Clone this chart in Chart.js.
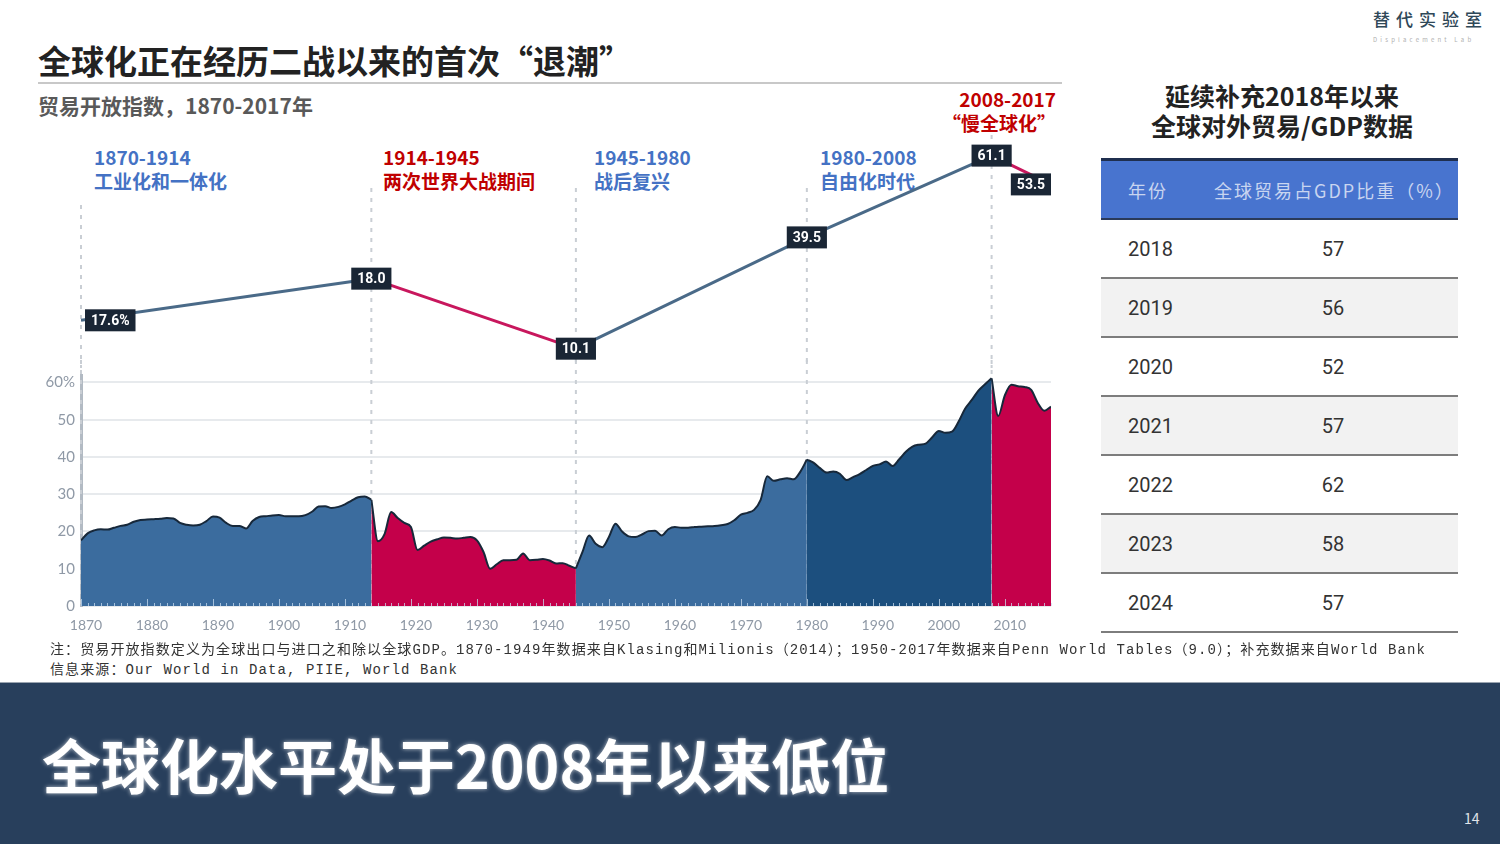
<!DOCTYPE html>
<html lang="zh-CN">
<head>
<meta charset="utf-8">
<title>全球化正在经历二战以来的首次“退潮”</title>
<script src="https://cdn.jsdelivr.net/npm/chart.js@4.4.1/dist/chart.umd.min.js"></script>
<style>
  html, body { margin: 0; padding: 0; }
  body {
    width: 1500px; height: 844px; position: relative; overflow: hidden; background: #fff;
    font-family: "Noto Sans CJK SC", "Noto Sans", sans-serif;
  }
  .abs { position: absolute; white-space: nowrap; }
  .period { font-size: 19px; font-weight: 700; line-height: 24px; }
  .blue { color: #4472c4; }
  .red { color: #c00000; }
  #areaChart, #peakChart { position: absolute; left: 30px; }
  #areaChart { top: 360px; }
  #peakChart { top: 103px; pointer-events: none; }
  table.gdp { position: absolute; left: 1101px; top: 158px; width: 357px; border-collapse: collapse; }
  table.gdp th {
    height: 57px; padding: 0; background: #4874cf; color: #c8d5f0; font-weight: 400; font-size: 18px;
    letter-spacing: 2px; text-align: left; border-top: 3px solid #1f2f4f; border-bottom: 2px solid #2a3a5a;
  }
  table.gdp td { height: 57px; padding: 0; font-size: 20px; color: #333; border-bottom: 2px solid #7d7d7d;
    font-family: Roboto, "Noto Sans", sans-serif; }
  table.gdp tr:nth-child(even) td { background: #f2f2f2; }
  .note { font-family: "Liberation Mono", "DejaVu Sans Mono", "Noto Sans CJK SC", monospace;
    font-size: 14px; letter-spacing: 1.1px; color: #333; line-height: 20px; }
</style>
</head>
<body>

<div class="abs" style="left:1373px;top:6px;font-size:17px;letter-spacing:6px;color:#2f4858;font-weight:500;">替代实验室</div>
<div class="abs" style="left:1373px;top:35px;font-size:6px;letter-spacing:3.2px;color:#b0b0b0;">Displacement Lab</div>

<div class="abs" style="left:38px;top:40px;font-size:33px;font-weight:700;line-height:40px;color:#222;">全球化正在经历二战以来的首次“退潮”</div>
<div class="abs" style="left:38px;top:82px;width:1024px;height:2px;background:#c8c8c8;"></div>
<div class="abs" style="left:38px;top:92px;font-size:21px;font-weight:700;line-height:26px;color:#595959;">贸易开放指数，1870-2017年</div>

<div class="abs period blue" style="left:94px;top:145px;">1870-1914<br>工业化和一体化</div>
<div class="abs period red" style="left:383px;top:145px;">1914-1945<br>两次世界大战期间</div>
<div class="abs period blue" style="left:594px;top:145px;">1945-1980<br>战后复兴</div>
<div class="abs period blue" style="left:820px;top:145px;">1980-2008<br>自由化时代</div>
<div class="abs period red" style="right:444px;top:87px;text-align:right;">2008-2017<br>“慢全球化”</div>

<canvas id="areaChart" width="1030" height="285"></canvas>
<canvas id="peakChart" width="1030" height="265"></canvas>

<div class="abs" style="left:1101px;top:80px;width:362px;text-align:center;font-size:25px;font-weight:700;line-height:30px;color:#222;">延续补充2018年以来<br>全球对外贸易/GDP数据</div>
<table class="gdp" id="gdpTable">
  <thead><tr><th style="width:80px;padding-left:27px;">年份</th><th style="padding-left:6px;">全球贸易占GDP比重（%）</th></tr></thead>
  <tbody></tbody>
</table>

<div class="abs note" style="left:50px;top:640px;">注：贸易开放指数定义为全球出口与进口之和除以全球GDP。1870-1949年数据来自Klasing和Milionis（2014）；1950-2017年数据来自Penn World Tables（9.0）；补充数据来自World Bank</div>
<div class="abs note" style="left:50px;top:660px;">信息来源：Our World in Data, PIIE, World Bank</div>

<div class="abs" style="left:0;top:682px;width:1500px;height:162px;background:#283f5c;border-top:1px solid #9aa4b0;"></div>
<div class="abs" style="left:42px;top:728px;font-size:59px;font-weight:700;line-height:72px;color:#fff;text-shadow:0 0 4px rgba(255,255,255,0.7);">全球化水平处于2008年以来低位</div>
<div class="abs" style="left:1464px;top:808px;font-size:14px;color:#e0e4ea;">14</div>

<script>
// 贸易开放指数（%），1870-2017
const years = [
  1870, 1871, 1872, 1873, 1874, 1875, 1876, 1877, 1878, 1879,
  1880, 1881, 1882, 1883, 1884, 1885, 1886, 1887, 1888, 1889,
  1890, 1891, 1892, 1893, 1894, 1895, 1896, 1897, 1898, 1899,
  1900, 1901, 1902, 1903, 1904, 1905, 1906, 1907, 1908, 1909,
  1910, 1911, 1912, 1913, 1914, 1915, 1916, 1917, 1918, 1919,
  1920, 1921, 1922, 1923, 1924, 1925, 1926, 1927, 1928, 1929,
  1930, 1931, 1932, 1933, 1934, 1935, 1936, 1937, 1938, 1939,
  1940, 1941, 1942, 1943, 1944, 1945, 1946, 1947, 1948, 1949,
  1950, 1951, 1952, 1953, 1954, 1955, 1956, 1957, 1958, 1959,
  1960, 1961, 1962, 1963, 1964, 1965, 1966, 1967, 1968, 1969,
  1970, 1971, 1972, 1973, 1974, 1975, 1976, 1977, 1978, 1979,
  1980, 1981, 1982, 1983, 1984, 1985, 1986, 1987, 1988, 1989,
  1990, 1991, 1992, 1993, 1994, 1995, 1996, 1997, 1998, 1999,
  2000, 2001, 2002, 2003, 2004, 2005, 2006, 2007, 2008, 2009,
  2010, 2011, 2012, 2013, 2014, 2015, 2016, 2017
];
const openness = [
  17.6, 19.5, 20.3, 20.6, 20.5, 21.0, 21.5, 21.8, 22.6, 23.1,
  23.2, 23.3, 23.4, 23.6, 23.5, 22.3, 21.8, 21.6, 21.8, 22.8,
  24.0, 23.7, 22.3, 21.5, 21.5, 20.8, 22.8, 23.9, 24.1, 24.3,
  24.4, 24.1, 24.1, 24.1, 24.4, 25.3, 26.7, 26.8, 26.3, 26.6,
  27.3, 28.3, 29.2, 29.4, 28.5, 17.4, 19.3, 25.2, 23.6, 22.3,
  21.2, 15.0, 16.2, 17.3, 17.9, 18.4, 18.3, 18.1, 18.3, 18.5,
  17.6, 14.5, 10.0, 11.2, 12.3, 12.3, 12.4, 14.1, 12.3, 12.4,
  12.6, 12.2, 11.4, 11.5, 10.8, 10.1, 14.5, 18.9, 16.7, 15.8,
  18.5, 22.1, 20.0, 18.7, 18.5, 19.2, 20.1, 20.2, 18.9, 20.6,
  21.2, 21.0, 21.0, 21.2, 21.3, 21.4, 21.5, 21.7, 22.0, 23.0,
  24.5, 25.0, 25.8, 28.5, 34.8, 33.6, 34.0, 34.3, 34.0, 36.0,
  39.3, 38.5, 37.0, 35.8, 36.1, 35.5, 33.8, 34.6, 35.4, 36.5,
  37.6, 38.0, 38.8, 37.6, 39.4, 41.4, 42.8, 43.3, 43.6, 45.3,
  47.0, 46.5, 46.8, 49.5, 53.0, 55.3, 57.8, 59.5, 61.1, 51.0,
  56.5, 59.4, 59.0, 58.8, 58.0, 54.5, 52.4, 53.5
];

// 各阶段分界年份与配色
const periodBreaks = [1870, 1914, 1945, 1980, 2008, 2017];
const periodColors = ["#3b6c9e", "#c4004a", "#3b6c9e", "#1c4f7e", "#c4004a"];

// 上方折线：各阶段节点
const peakYears = [1870, 1914, 1945, 1980, 2008, 2017];
const peakValues = [17.6, 28.6, 10.1, 39.5, 61.1, 53.5];
const peakLabels = ["17.6%", "18.0", "10.1", "39.5", "61.1", "53.5"];

// 右侧表格
const tableYears = [2018, 2019, 2020, 2021, 2022, 2023, 2024];
const tableValues = [57, 56, 52, 57, 62, 58, 57];

// 表格
const tbody = document.querySelector("#gdpTable tbody");
tableYears.forEach((y, i) => {
  const tr = document.createElement("tr");
  tr.innerHTML = `<td style="padding-left:27px;">${y}</td><td style="text-align:center;">${tableValues[i]}</td>`;
  tbody.appendChild(tr);
});

// 虚线分隔
function dashedLines(id, startY) {
  return {
    id: id,
    beforeDatasetsDraw(chart) {
      const ctx = chart.ctx;
      const xs = chart.scales.x;
      ctx.save();
      ctx.strokeStyle = "#c9ced4";
      ctx.lineWidth = 2;
      ctx.setLineDash([4, 6]);
      periodBreaks.slice(0, 5).forEach((yr) => {
        const x = xs.getPixelForValue(yr);
        ctx.beginPath();
        ctx.moveTo(x, startY(yr));
        ctx.lineTo(x, chart.chartArea.bottom);
        ctx.stroke();
      });
      ctx.restore();
    }
  };
}

// 底部年份刻度
const yearTicks = {
  id: "yearTicks",
  afterDatasetsDraw(chart) {
    const ctx = chart.ctx;
    const xs = chart.scales.x;
    const bottom = chart.chartArea.bottom;
    ctx.save();
    ctx.strokeStyle = "rgba(200,220,240,0.75)";
    ctx.lineWidth = 1;
    years.forEach((yr) => {
      const x = Math.round(xs.getPixelForValue(yr)) + 0.5;
      ctx.beginPath();
      ctx.moveTo(x, bottom);
      ctx.lineTo(x, bottom - (yr % 10 === 0 ? 7 : 3));
      ctx.stroke();
    });
    ctx.restore();
  }
};

const areaSets = periodColors.map((c, k) => ({
  data: years
    .map((y, i) => ({ x: y, y: openness[i] }))
    .filter((p) => p.x >= periodBreaks[k] && p.x <= periodBreaks[k + 1]),
  backgroundColor: c,
  borderColor: "#17283a",
  borderWidth: 2,
  fill: "origin",
  pointRadius: 0,
  cubicInterpolationMode: "monotone"
}));

new Chart(document.getElementById("areaChart"), {
  type: "line",
  data: { datasets: areaSets },
  options: {
    responsive: false,
    animation: false,
    devicePixelRatio: 1,
    layout: { padding: { top: 13.5, right: 9, left: 0, bottom: 0 } },
    plugins: { legend: { display: false }, tooltip: { enabled: false } },
    scales: {
      x: {
        type: "linear",
        min: 1870,
        max: 2017,
        afterFit: (s) => { s.height = 39; },
        grid: { display: false },
        border: { display: false },
        ticks: {
          stepSize: 10,
          includeBounds: false,
          autoSkip: false,
          maxRotation: 0,
          labelOffset: 5,
          padding: 3,
          color: "#8f99a6",
          font: { family: "Lato, 'Noto Sans', sans-serif", size: 14 },
          callback: (v) => String(v)
        }
      },
      y: {
        min: 0,
        max: 62,
        afterFit: (s) => { s.width = 51; },
        grid: { color: "#e7eaed", lineWidth: 2, drawTicks: false },
        border: { display: true, color: "#b2bac3", width: 3 },
        ticks: {
          stepSize: 10,
          includeBounds: false,
          padding: 6,
          color: "#8f99a6",
          font: { family: "Lato, 'Noto Sans', sans-serif", size: 15 },
          callback: (v) => (v === 60 ? "60%" : v)
        }
      }
    }
  },
  plugins: [dashedLines("areaDash", () => 0), yearTicks]
});

// 上方折线节点标签
const peakBoxes = {
  id: "peakBoxes",
  afterDatasetsDraw(chart) {
    const ctx = chart.ctx;
    const pts = chart.getDatasetMeta(0).data;
    ctx.save();
    ctx.font = "bold 14px Roboto, 'Noto Sans', sans-serif";
    ctx.textBaseline = "middle";
    pts.forEach((p, i) => {
      const w = ctx.measureText(peakLabels[i]).width + 12;
      const h = 22;
      let x0 = p.x - w / 2;
      if (i === 0) x0 = p.x + 4;
      if (i === pts.length - 1) x0 = p.x - w;
      ctx.fillStyle = "#1a2635";
      ctx.fillRect(x0, p.y - h / 2, w, h);
      ctx.fillStyle = "#fff";
      ctx.textAlign = "left";
      ctx.fillText(peakLabels[i], x0 + 6, p.y + 1);
    });
    ctx.restore();
  }
};

const redSegments = [1, 4];
new Chart(document.getElementById("peakChart"), {
  type: "line",
  data: {
    datasets: [{
      data: peakYears.map((y, i) => ({ x: y, y: peakValues[i] })),
      borderWidth: 3,
      borderColor: "#4a6a88",
      pointRadius: 0,
      segment: {
        borderColor: (c) => (redSegments.includes(c.p0DataIndex) ? "#c8175d" : "#4a6a88")
      }
    }]
  },
  options: {
    responsive: false,
    animation: false,
    devicePixelRatio: 1,
    layout: { padding: { top: 0, right: 9, left: 51, bottom: 0 } },
    plugins: { legend: { display: false }, tooltip: { enabled: false } },
    scales: {
      x: { type: "linear", min: 1870, max: 2017, display: false },
      y: { min: 5, max: 75, display: false }
    }
  },
  plugins: [dashedLines("peakDash", (yr) => (yr === 2008 ? 32 : yr === 1870 ? 102 : 85)), peakBoxes]
});
</script>
</body>
</html>
